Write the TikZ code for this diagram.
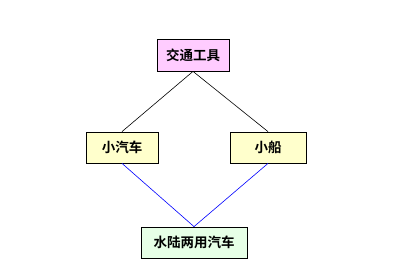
\documentclass[tikz,border=0pt]{standalone}
\usepackage{fontspec}
\usepackage{xcolor}
\usepackage{tikz}
\usetikzlibrary{positioning}
\newfontfamily\cjk{Noto Sans CJK SC}[BoldFont={Noto Sans CJK SC Bold}]

\definecolor{toppink}{HTML}{FFCCFF}
\definecolor{midyellow}{HTML}{FFFFCC}
\definecolor{lowgreen}{HTML}{E6FFE6}

\begin{document}
\begin{tikzpicture}[
  x=1pt, y=-1pt,
  box/.style={rectangle, draw, line width=0.8pt, minimum height=31pt, inner sep=0pt, font=\cjk\bfseries\fontsize{13.5}{14}\selectfont},
  link/.style={line width=0.6pt},
]
\useasboundingbox (0,0) rectangle (404,278);

\node[box, fill=toppink, minimum width=72pt, minimum height=32pt] (tool) at (193,55) {交通工具};
\node[box, fill=midyellow, minimum width=72pt] (car) at (122,147.5) {小汽车};
\node[box, fill=midyellow, minimum width=76pt] (boat) at (268,147.5) {小船};
\node[box, fill=lowgreen, minimum width=106pt] (amph) at (194,242.5) {水陆两用汽车};

% upper links
\draw[link] (tool.south) -- (car.north);
\draw[link] (tool.south) -- (boat.north);

% lower links
\draw[link, blue] (car.south) -- (amph.north);
\draw[link, blue] (boat.south) -- (amph.north);

\end{tikzpicture}
\end{document}
